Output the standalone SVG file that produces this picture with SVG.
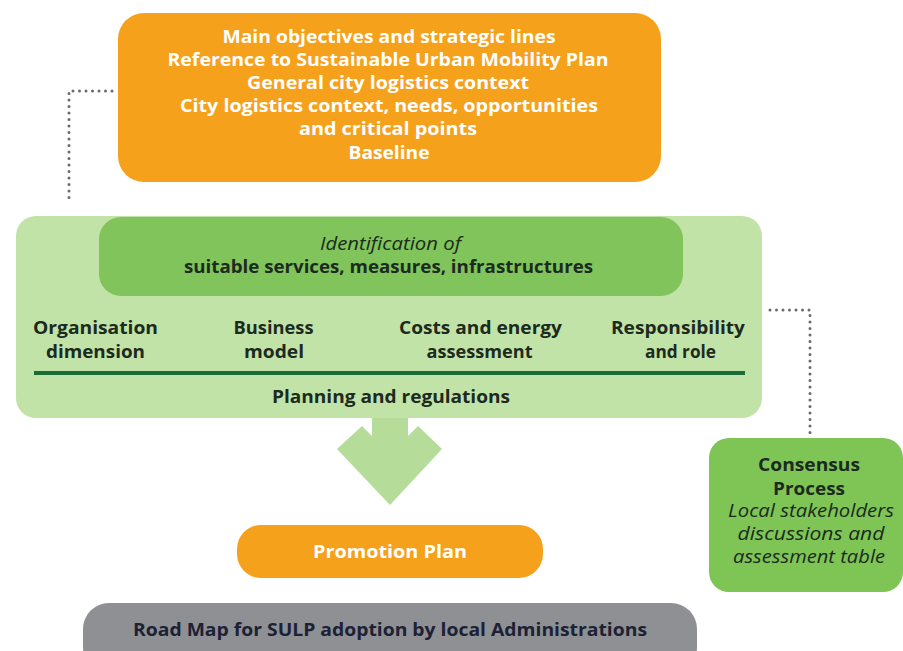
<svg xmlns="http://www.w3.org/2000/svg" width="903" height="651" viewBox="0 0 903 651">
<style>
.t{font-family:"Open Sans","Noto Sans","Liberation Sans",sans-serif;text-anchor:middle}
.w{fill:#ffffff;font-weight:700;font-size:17px}
.d{fill:#1c2a20;font-weight:700;font-size:17.5px}
.i{fill:#1c2a20;font-style:italic;font-weight:400;font-size:17.5px}
.dot{fill:none;stroke:#6a6a6a;stroke-width:3;stroke-linecap:round;stroke-dasharray:0 6.5}
</style>
<rect width="903" height="651" fill="#ffffff"/>
<g id="connectors">
<path class="dot" d="M112,91 H69 V204"/>
<path class="dot" d="M770,310 H810 V433"/>
<polygon id="arrow" points="337,449 362,426 372,436 372,417 408,417 408,436 418,426 442,449 390,505" fill="#b6dc9a"/>
</g>
<g id="context">
<rect x="118" y="13" width="543" height="169" rx="26" fill="#f6a11c"/>
<text class="t w" x="389" y="43" textLength="333" lengthAdjust="spacingAndGlyphs">Main objectives and strategic lines</text>
<text class="t w" x="388" y="66" textLength="441" lengthAdjust="spacingAndGlyphs">Reference to Sustainable Urban Mobility Plan</text>
<text class="t w" x="388" y="89" textLength="282" lengthAdjust="spacingAndGlyphs">General city logistics context</text>
<text class="t w" x="389" y="112" textLength="418" lengthAdjust="spacingAndGlyphs">City logistics context, needs, opportunities</text>
<text class="t w" x="388" y="135" textLength="178" lengthAdjust="spacingAndGlyphs">and critical points</text>
<text class="t w" x="389" y="159" textLength="81" lengthAdjust="spacingAndGlyphs">Baseline</text>
</g>
<g id="planning">
<rect x="16" y="216" width="746" height="202" rx="20" fill="#c2e3a7"/>
<line x1="34" y1="373" x2="745" y2="373" stroke="#1b6b37" stroke-width="4"/>
<text class="t d" x="95.5" y="334" textLength="125" lengthAdjust="spacingAndGlyphs">Organisation</text>
<text class="t d" x="95.5" y="358" textLength="99" lengthAdjust="spacingAndGlyphs">dimension</text>
<text class="t d" x="273.5" y="334" textLength="80" lengthAdjust="spacingAndGlyphs">Business</text>
<text class="t d" x="274" y="358" textLength="60" lengthAdjust="spacingAndGlyphs">model</text>
<text class="t d" x="480.5" y="334" textLength="163" lengthAdjust="spacingAndGlyphs">Costs and energy</text>
<text class="t d" x="479.5" y="358" textLength="106" lengthAdjust="spacingAndGlyphs">assessment</text>
<text class="t d" x="678" y="334" textLength="134" lengthAdjust="spacingAndGlyphs">Responsibility</text>
<text class="t d" x="680.5" y="358" textLength="71" lengthAdjust="spacingAndGlyphs">and role</text>
<text class="t d" x="391" y="403" textLength="238" lengthAdjust="spacingAndGlyphs">Planning and regulations</text>
</g>
<g id="identification">
<rect x="99" y="217" width="584" height="79" rx="22" fill="#80c45b"/>
<text class="t i" x="390.5" y="250" textLength="141" lengthAdjust="spacingAndGlyphs">Identification of</text>
<text class="t d" x="388.5" y="273" textLength="409" lengthAdjust="spacingAndGlyphs">suitable services, measures, infrastructures</text>
</g>
<g id="consensus">
<rect x="709" y="438" width="194" height="154" rx="20" fill="#7ec556"/>
<text class="t d" x="809" y="471" textLength="102" lengthAdjust="spacingAndGlyphs">Consensus</text>
<text class="t d" x="809" y="495" textLength="72" lengthAdjust="spacingAndGlyphs">Process</text>
<text class="t i" x="811" y="517" textLength="166" lengthAdjust="spacingAndGlyphs">Local stakeholders</text>
<text class="t i" x="811" y="540" textLength="147" lengthAdjust="spacingAndGlyphs">discussions and</text>
<text class="t i" x="809" y="563" textLength="152" lengthAdjust="spacingAndGlyphs">assessment table</text>
</g>
<g id="promotion">
<rect x="237" y="525" width="306" height="53" rx="24" fill="#f6a11c"/>
<text class="t w" x="390" y="558" textLength="154" lengthAdjust="spacingAndGlyphs">Promotion Plan</text>
</g>
<g id="roadmap">
<rect x="83" y="603" width="614" height="70" rx="26" fill="#8e9093"/>
<text class="t d" x="390" y="636" style="fill:#1d2135" textLength="514" lengthAdjust="spacingAndGlyphs">Road Map for SULP adoption by local Administrations</text>
</g>
</svg>
